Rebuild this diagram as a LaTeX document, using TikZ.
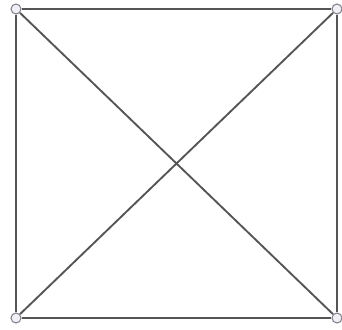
\documentclass[tikz,border=0pt]{standalone}
\usepackage{xcolor}
\usepackage{tikz}
\usetikzlibrary{positioning, calc}
\definecolor{edgegray}{RGB}{85,85,85}
\definecolor{vertexfill}{RGB}{240,240,246}
\definecolor{vertexline}{RGB}{130,130,140}

\begin{document}
\begin{tikzpicture}[x=0.03cm, y=-0.03cm,
    vertex/.style={circle, draw=vertexline, fill=vertexfill, line width=0.9pt, inner sep=0pt, minimum size=0.3cm},
    edge/.style={edgegray, line width=1.6pt}]
  \useasboundingbox (0,0) rectangle (342,329);
  % corners
  \node[vertex] (tl) at (16,9) {};
  \node[vertex] (tr) at (337,9) {};
  \node[vertex] (bl) at (16,318) {};
  \node[vertex] (br) at (337,318) {};
  % sides and diagonals
  \draw[edge] (tl) -- (tr);
  \draw[edge] (tr) -- (br);
  \draw[edge] (br) -- (bl);
  \draw[edge] (bl) -- (tl);
  \draw[edge] (tl) -- (br);
  \draw[edge] (tr) -- (bl);
\end{tikzpicture}
\end{document}
